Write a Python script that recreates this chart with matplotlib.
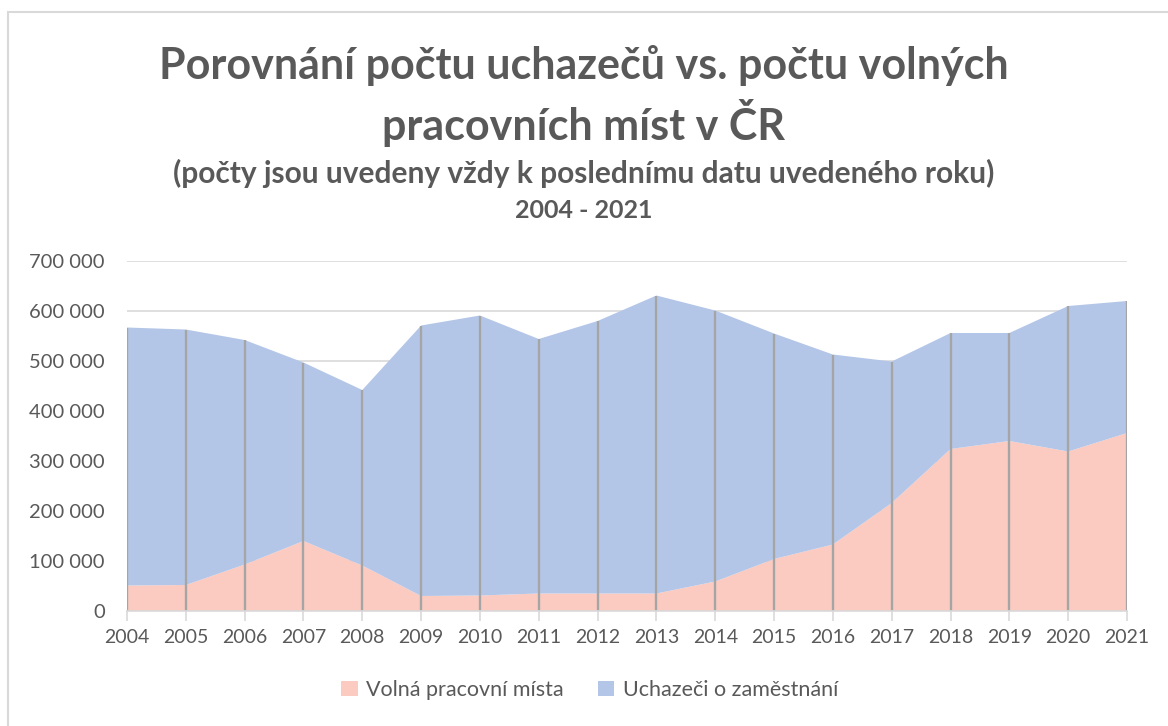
import matplotlib.pyplot as plt
from matplotlib.patches import Rectangle, Patch
from matplotlib.ticker import FuncFormatter

years = list(range(2004, 2022))
# hodnoty (v tisících)
volna_mista = [51, 52, 93, 140, 91, 30, 31, 35, 35, 35, 59, 104, 133, 216, 324, 340, 319, 356]
uchazeci = [516, 511, 449, 357, 351, 541, 560, 509, 545, 596, 542, 451, 380, 283, 232, 216, 291, 264]

vm = [v * 1000 for v in volna_mista]
uch = [u * 1000 for u in uchazeci]
total = [a + b for a, b in zip(vm, uch)]

pink = '#FBCBC1'
blue = '#B4C6E7'
txt = '#595959'

plt.rcParams['font.family'] = ['Lato', 'DejaVu Sans']

fig = plt.figure(figsize=(11.68, 7.26), dpi=100)
ax = fig.add_axes([127 / 1168, 1 - 611 / 726, 1000 / 1168, 350 / 726])

ax.stackplot(years, vm, uch, colors=[pink, blue], linewidth=0)
ax.vlines(years, 0, total, color='#A5A5A5', linewidth=1.7, zorder=3)

ax.set_xlim(2004, 2021)
ax.set_ylim(0, 700000)
ax.set_yticks(range(0, 700001, 100000))
ax.yaxis.set_major_formatter(FuncFormatter(lambda v, p: '{:,.0f}'.format(v).replace(',', ' ')))
ax.set_xticks(years)
ax.grid(axis='y', color='#D9D9D9', linewidth=1.2, zorder=0)
ax.set_axisbelow(True)

for s in ['top', 'right', 'left']:
    ax.spines[s].set_visible(False)
ax.spines['bottom'].set_color('#D9D9D9')
ax.spines['bottom'].set_linewidth(1.2)
ax.spines['bottom'].set_zorder(4)

ax.tick_params(axis='y', length=0, labelsize=14.5, labelcolor=txt, pad=16)
ax.tick_params(axis='x', length=7, width=1.2, color='#D9D9D9', labelsize=14, labelcolor=txt, pad=6)

fig.text(0.5, 1 - 66 / 726, 'Porovnání počtu uchazečů vs. počtu volných', ha='center', va='center',
         fontsize=31, fontweight='bold', color=txt)
fig.text(0.5, 1 - 123 / 726, 'pracovních míst v ČR', ha='center', va='center',
         fontsize=31, fontweight='bold', color=txt)
fig.text(0.5, 1 - 173 / 726, '(počty jsou uvedeny vždy k poslednímu datu uvedeného roku)', ha='center', va='center',
         fontsize=21.5, fontweight='bold', color=txt)
fig.text(0.5, 1 - 211 / 726, '2004 - 2021', ha='center', va='center',
         fontsize=18, fontweight='bold', color=txt)

handles = [Patch(facecolor=pink, label='Volná pracovní místa'),
           Patch(facecolor=blue, label='Uchazeči o zaměstnání')]
fig.legend(handles=handles, loc='center', bbox_to_anchor=(0.505, 1 - 690 / 726), ncol=2, frameon=False,
           fontsize=15.5, labelcolor=txt, handlelength=0.75, handleheight=0.75, handletextpad=0.4, columnspacing=1.6)

fig.patches.append(Rectangle((8 / 1168, -0.1), 1.2, 1 - 12 / 726 + 0.1, transform=fig.transFigure,
                             fill=False, edgecolor='#D9D9D9', linewidth=1.5))

fig.savefig('out.png', dpi=100)
